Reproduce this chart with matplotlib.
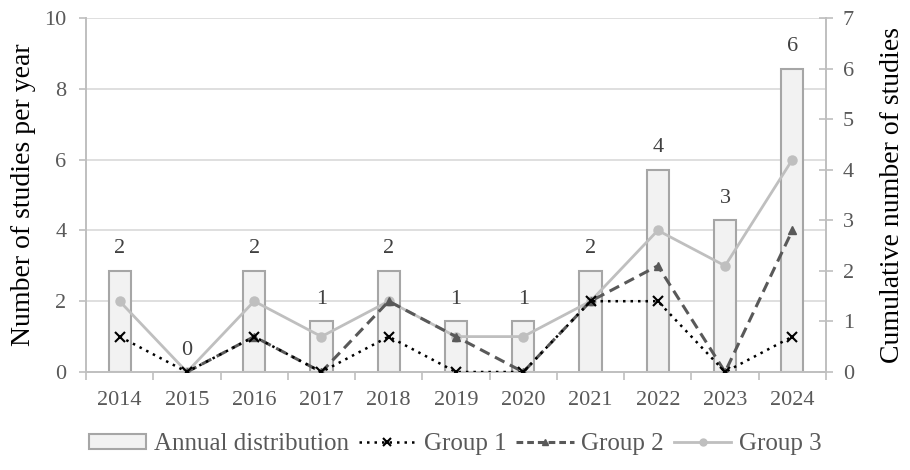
import matplotlib
matplotlib.use('Agg')
import matplotlib.pyplot as plt
from matplotlib.patches import Patch
from matplotlib.lines import Line2D
import numpy as np

plt.rcParams['font.family'] = ['Liberation Serif', 'DejaVu Serif']

years = ['2014', '2015', '2016', '2017', '2018', '2019', '2020', '2021', '2022', '2023', '2024']
annual = [2, 0, 2, 1, 2, 1, 1, 2, 4, 3, 6]
group1 = [1, 0, 1, 0, 1, 0, 0, 2, 2, 0, 1]
group2 = [np.nan, 0, 1, 0, 2, 1, 0, 2, 3, 0, 4]
group3 = [2, 0, 2, 1, 2, 1, 1, 2, 4, 3, 6]

text_c = '#595959'
axis_c = '#bfbfbf'

fig = plt.figure(figsize=(9.1, 4.7), dpi=100)
ax2 = fig.add_axes([0.0945, 0.2085, 0.8132, 0.7532])
ax = ax2.twinx()
# lines axis on the left, bars axis on the right
ax.yaxis.tick_left()
ax.yaxis.set_label_position('left')
ax2.yaxis.tick_right()
ax2.yaxis.set_label_position('right')
ax.set_zorder(ax2.get_zorder() + 1)
ax.patch.set_visible(False)

x = np.arange(len(years))

# grid of the left axis, drawn behind the bars
left_ticks = [0, 2, 4, 6, 8, 10]
for t in left_ticks[1:]:
    ax2.axhline(t * 7 / 10, color='#d9d9d9', lw=1.2, zorder=0)

bars = ax2.bar(x, annual, 0.33, color='#f2f2f2', edgecolor='#a6a6a6', lw=1.5, zorder=2)
for rect, v in zip(bars, annual):
    ax2.annotate(str(v), xy=(rect.get_x() + rect.get_width() / 2, rect.get_height()),
                 xytext=(0, 9), textcoords='offset points', ha='center', va='bottom',
                 fontsize=16, color='#404040')

ax.plot(x, group3, color='#bfbfbf', lw=2, marker='o', ms=6.5, zorder=3)
ax.plot(x, group2, color='#595959', lw=2.2, ls=(0, (3.5, 2)), marker='^', ms=6, zorder=4)
ax.plot(x, group1, color='black', lw=1.8, ls=(0, (1, 2)), marker='x', ms=7, mew=1.5, zorder=5)

ax.set_xlim(-0.5, len(years) - 0.5)
ax.set_ylim(0, 10)
ax2.set_ylim(0, 7)
ax.set_yticks(left_ticks)
ax2.set_yticks(range(8))
ax2.set_xticks(x)
ax2.set_xticklabels(years)
ax2.set_xticks(np.arange(-0.5, len(years)), minor=True)
ax2.tick_params(axis='x', which='major', length=0, pad=14, labelsize=16, labelcolor=text_c)
ax2.tick_params(axis='x', which='minor', length=6, color=axis_c, width=1.2)
ax.tick_params(axis='y', length=5, color=axis_c, width=1.2, labelsize=16, labelcolor=text_c, pad=9)
ax2.tick_params(axis='y', direction='inout', length=10, color=axis_c, width=1.2,
                labelsize=16, labelcolor=text_c, pad=7)

for a in (ax, ax2):
    a.spines['top'].set_visible(False)
    for s in ('left', 'right', 'bottom'):
        a.spines[s].set_color(axis_c)
        a.spines[s].set_linewidth(1.2)

ax.set_ylabel('Number of studies per year', fontsize=20, color='black', labelpad=6)
ax2.set_ylabel('Cumulative number of studies', fontsize=20, color='black', labelpad=19)

handles = [
    Patch(facecolor='#f2f2f2', edgecolor='#a6a6a6', lw=1.5),
    Line2D([], [], color='black', lw=1.8, ls=(0, (1, 2)), marker='x', ms=6, mew=1.5),
    Line2D([], [], color='#595959', lw=2.2, ls=(0, (2.2, 1.3)), marker='^', ms=5),
    Line2D([], [], color='#bfbfbf', lw=2, marker='o', ms=5),
]
labels = ['Annual distribution', 'Group 1', 'Group 2', 'Group 3']
leg = fig.legend(handles, labels, loc='center', bbox_to_anchor=(0.5, 0.055), ncol=4,
                 frameon=False, fontsize=18, handlelength=2.3, handleheight=0.55,
                 handletextpad=0.3, columnspacing=0.4, labelcolor=text_c)

fig.savefig('out.png', dpi=100)
